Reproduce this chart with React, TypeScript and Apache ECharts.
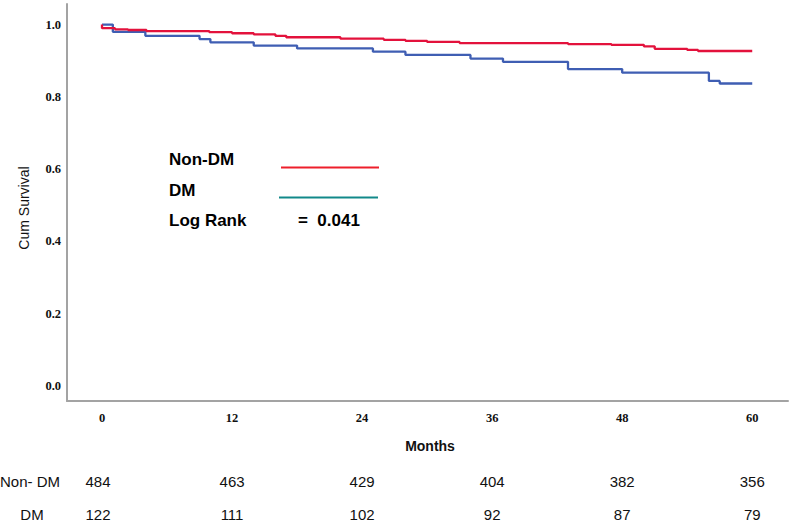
import React, { useEffect, useRef } from "react";
import * as echarts from "echarts";

const monthTicks = [0, 12, 24, 36, 48, 60];
const survTicks = [0, 0.2, 0.4, 0.6, 0.8, 1.0];

const nonDmTime = [0, 0, 1.2, 2.4, 4.1, 9.9, 12, 14, 16, 17, 22, 26, 28, 30, 33, 43, 47, 50, 51, 54, 55, 60];
const nonDmSurv = [1.0, 0.99, 0.987, 0.985, 0.982, 0.979, 0.976, 0.973, 0.969, 0.965, 0.961, 0.958, 0.955, 0.952, 0.949, 0.946, 0.944, 0.94, 0.933, 0.93, 0.927, 0.927];

const dmTime = [0, 1, 4, 9, 10, 14, 18, 25, 28, 34, 37, 43, 48, 56, 57, 60];
const dmSurv = [1.0, 0.98, 0.969, 0.96, 0.951, 0.942, 0.934, 0.925, 0.916, 0.906, 0.897, 0.877, 0.867, 0.844, 0.837, 0.837];

const riskRowLabels = ["Non- DM", "DM"];
const riskNonDm = [484, 463, 429, 404, 382, 356];
const riskDm = [122, 111, 102, 92, 87, 79];

const legendLabels = ["Non-DM", "DM", "Log Rank"];
const logRankText = "=  0.041";

export default function App() {
  const ref = useRef<HTMLDivElement>(null);

  useEffect(() => {
    if (!ref.current) return;
    const chart = echarts.init(ref.current, undefined, { renderer: "svg" });
    const axisColor = "#a3a3a3";
    const tickFont = {
      fontFamily: "Liberation Serif",
      fontWeight: "bold" as const,
      fontSize: 12.5,
      color: "#111",
    };
    chart.setOption({
      animation: false,
      backgroundColor: "#fff",
      grid: { left: 67, right: 9, top: 4, bottom: 124, containLabel: false },
      xAxis: {
        type: "value",
        min: -3.23,
        max: 63.3,
        axisLine: { show: true, onZero: false, lineStyle: { color: axisColor, width: 2 } },
        axisTick: { show: false },
        splitLine: { show: false },
        axisLabel: {
          ...tickFont,
          margin: 10,
          customValues: monthTicks,
          formatter: (v: number) => String(v),
        },
      },
      yAxis: {
        type: "value",
        min: -0.0416,
        max: 1.057,
        axisLine: { show: true, onZero: false, lineStyle: { color: axisColor, width: 2 } },
        axisTick: { show: false },
        splitLine: { show: false },
        axisLabel: {
          ...tickFont,
          margin: 6,
          customValues: survTicks,
          formatter: (v: number) => v.toFixed(1),
        },
      },
      series: [
        {
          name: "Non-DM",
          type: "line",
          step: "end",
          symbol: "none",
          data: nonDmTime.map((t, i) => [t, nonDmSurv[i]]),
          lineStyle: { color: "#e3123c", width: 2.3 },
          z: 3,
        },
        {
          name: "DM",
          type: "line",
          step: "end",
          symbol: "none",
          data: dmTime.map((t, i) => [t, dmSurv[i]]),
          lineStyle: { color: "#3f5eb3", width: 2.3 },
          z: 2,
        },
      ],
    });

    const xs = monthTicks.map((m) => chart.convertToPixel({ xAxisIndex: 0 }, m) as number);
    const numFont = "15px 'Liberation Sans', Arial, sans-serif";
    const legendFont = "bold 17px 'Liberation Sans', Arial, sans-serif";
    const graphics: any[] = [
      {
        type: "text",
        x: 24,
        y: 208,
        rotation: Math.PI / 2,
        style: {
          text: "Cum Survival",
          font: "14px 'Liberation Sans', Arial, sans-serif",
          fill: "#111",
          textAlign: "center",
          textVerticalAlign: "middle",
        },
      },
      {
        type: "text",
        x: 430,
        y: 446,
        style: {
          text: "Months",
          font: "bold 14px 'Liberation Sans', Arial, sans-serif",
          fill: "#111",
          textAlign: "center",
          textVerticalAlign: "middle",
        },
      },
      {
        type: "text",
        x: 169,
        y: 159,
        style: { text: legendLabels[0], font: legendFont, fill: "#000", textVerticalAlign: "middle" },
      },
      {
        type: "text",
        x: 169,
        y: 190,
        style: { text: legendLabels[1], font: legendFont, fill: "#000", textVerticalAlign: "middle" },
      },
      {
        type: "text",
        x: 169,
        y: 220,
        style: { text: legendLabels[2], font: legendFont, fill: "#000", textVerticalAlign: "middle" },
      },
      {
        type: "text",
        x: 298,
        y: 220,
        style: { text: logRankText, font: legendFont, fill: "#000", textVerticalAlign: "middle" },
      },
      {
        type: "line",
        shape: { x1: 281, y1: 167.5, x2: 379, y2: 167.5 },
        style: { stroke: "#ee1f2b", lineWidth: 2 },
      },
      {
        type: "line",
        shape: { x1: 279, y1: 197.5, x2: 378, y2: 197.5 },
        style: { stroke: "#12898a", lineWidth: 2.2 },
      },
      {
        type: "text",
        x: 0,
        y: 481,
        style: { text: riskRowLabels[0], font: numFont, fill: "#111", textVerticalAlign: "middle" },
      },
      {
        type: "text",
        x: 32,
        y: 514,
        style: {
          text: riskRowLabels[1],
          font: numFont,
          fill: "#111",
          textAlign: "center",
          textVerticalAlign: "middle",
        },
      },
    ];
    riskNonDm.forEach((n, i) => {
      graphics.push({
        type: "text",
        x: xs[i] - (i === 0 ? 4 : 0),
        y: 481,
        style: { text: String(n), font: numFont, fill: "#111", textAlign: "center", textVerticalAlign: "middle" },
      });
    });
    riskDm.forEach((n, i) => {
      graphics.push({
        type: "text",
        x: xs[i] - (i === 0 ? 4 : 0),
        y: 514,
        style: { text: String(n), font: numFont, fill: "#111", textAlign: "center", textVerticalAlign: "middle" },
      });
    });
    chart.setOption({ graphic: graphics });

    return () => chart.dispose();
  }, []);

  return (
    <div
      ref={ref}
      style={{ position: "fixed", left: 0, top: 0, width: 797, height: 525, background: "#fff" }}
    />
  );
}
